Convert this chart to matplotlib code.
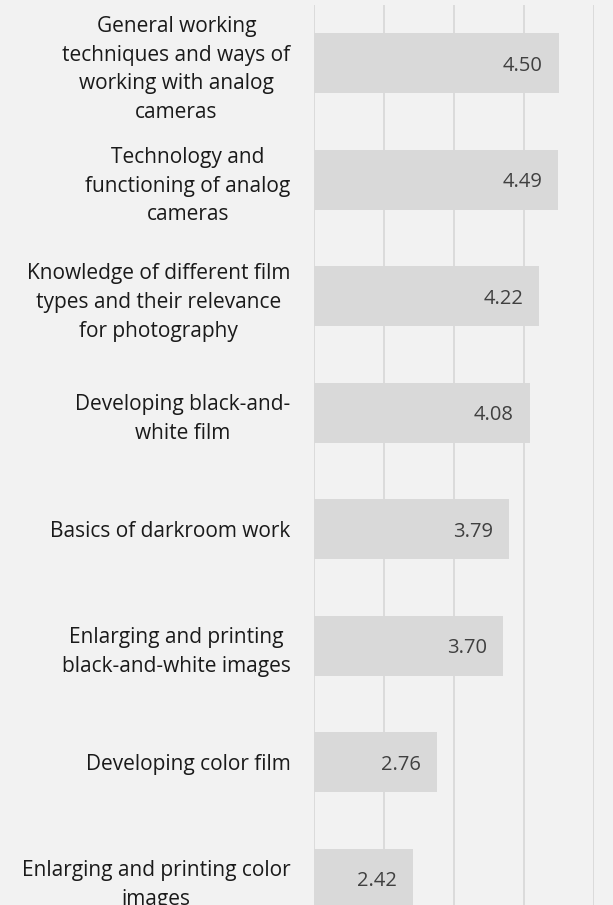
import matplotlib
matplotlib.use("Agg")
import matplotlib.pyplot as plt

# mean ratings per topic, top to bottom
topics = [
    "General working\ntechniques and ways of\nworking with analog\ncameras",
    "Technology and\nfunctioning of analog\ncameras",
    "Knowledge of different film\ntypes and their relevance\nfor photography",
    "Developing black-and-\nwhite film",
    "Basics of darkroom work",
    "Enlarging and printing\nblack-and-white images",
    "Developing color film",
    "Enlarging and printing color\nimages",
]
scores = [4.50, 4.49, 4.22, 4.08, 3.79, 3.70, 2.76, 2.42]

BG = "#F2F2F2"
BAR = "#D9D9D9"
GRID = "#D9D9D9"
FONT = ["Open Sans", "DejaVu Sans"]

W, H, DPI = 613, 905, 100
fig = plt.figure(figsize=(W / DPI, H / DPI), dpi=DPI, facecolor=BG)
# axes runs a little past the bottom edge, the last bar is cut off
ax = fig.add_axes([314 / W, 1 - 937 / H, 280 / W, 932 / H])
ax.set_facecolor(BG)

ypos = list(range(len(topics)))
ax.barh(ypos, [s - 1 for s in scores], left=1, height=0.515, color=BAR, zorder=2)
for y, s in zip(ypos, scores):
    ax.text(s - 0.23, y + 0.02, f"{s:.2f}", ha="right", va="center",
            fontsize=14.5, color="#404040", family=FONT, zorder=3)

ax.set_xlim(1, 5)
ax.set_ylim(len(topics) - 0.5, -0.5)
ax.set_xticks([1, 2, 3, 4, 5])
ax.xaxis.grid(True, color=GRID, linewidth=1.3, zorder=0)
ax.tick_params(axis="x", length=0, labelbottom=False)
ax.set_yticks(ypos)
ax.set_yticklabels(topics, fontsize=15, family=FONT, color="#1a1a1a",
                   ha="right", multialignment="center", linespacing=1.48)
ax.tick_params(axis="y", length=0, pad=17)
for sp in ax.spines.values():
    sp.set_visible(False)

fig.savefig("out.png", dpi=DPI, facecolor=BG)
